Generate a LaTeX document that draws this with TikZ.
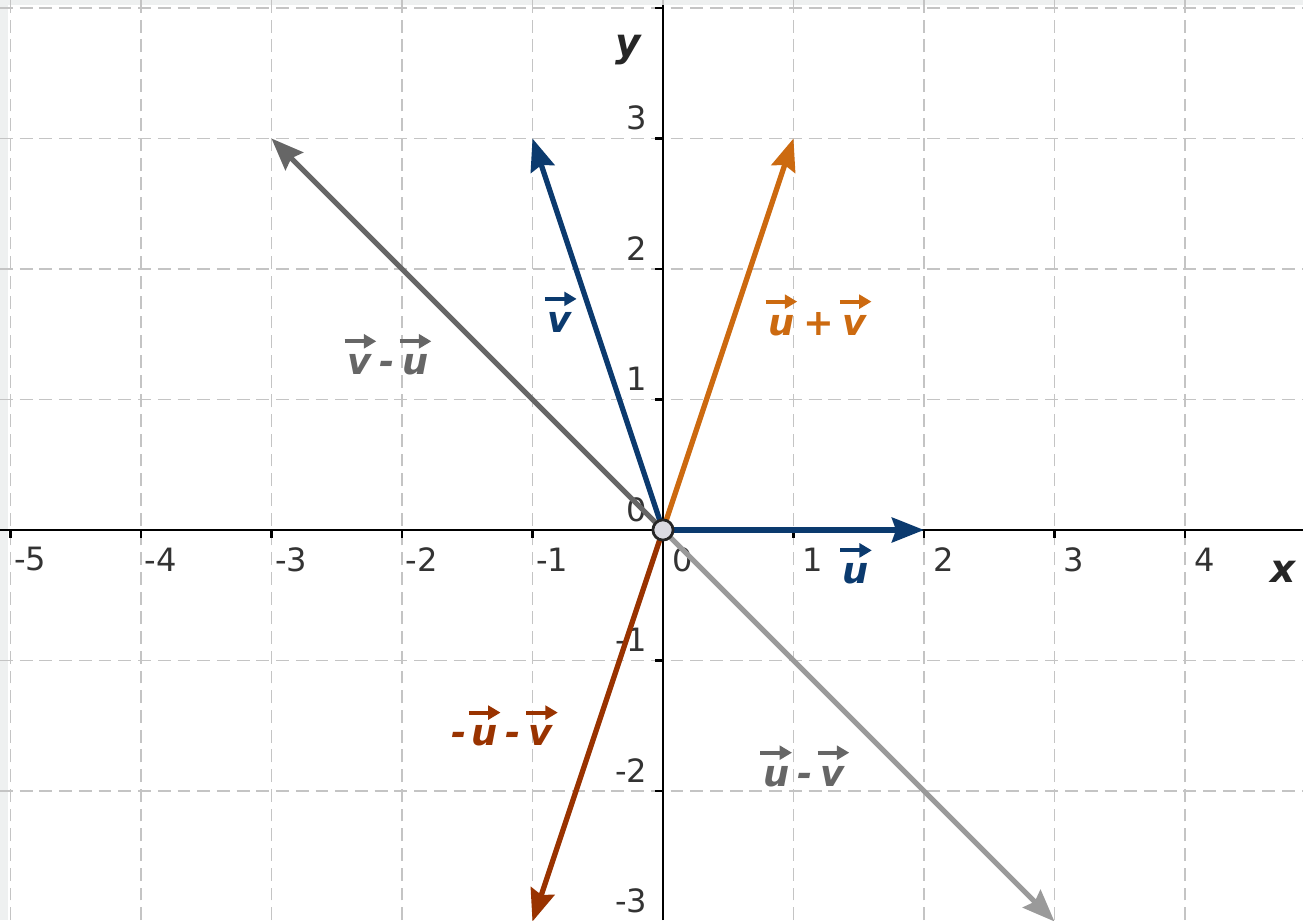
\documentclass[tikz,border=0pt]{standalone}
\usepackage{fontspec}
\setmainfont{DejaVu Sans}
\usetikzlibrary{arrows.meta}
\definecolor{vblue}{HTML}{0B3A6E}
\definecolor{vorange}{HTML}{CC6A10}
\definecolor{vbrown}{HTML}{993300}
\definecolor{vdgray}{HTML}{666666}
\definecolor{vlgray}{HTML}{9A9A9A}
\definecolor{gridgray}{HTML}{C4C4C4}
\definecolor{stripgray}{HTML}{EEF0F0}
\definecolor{dotfill}{HTML}{DADAE2}
\tikzset{
  gridline/.style={draw=gridgray, line width=0.35pt, dash pattern=on 2.8pt off 1.5pt},
  axisline/.style={draw=black, line width=0.5pt},
  vecline/.style={line width=1.15pt, -{Stealth[length=7pt,width=5.4pt,inset=0.9pt]}},
  ticklab/.style={font=\fontsize{7}{8}\selectfont, text=black!80, inner sep=0pt},
  veclab/.style={font=\fontsize{8}{9}\selectfont\bfseries\itshape, inner sep=0pt, anchor=base west},
  overarrow/.style={line width=0.85pt, -{Triangle[length=2.7pt,width=3pt]}},
}
\newcommand\overarr[2]{\draw[overarrow, #2] ([xshift=-0.4pt,yshift=2.7pt]#1.north west) -- ([xshift=6.5pt,yshift=2.7pt]#1.north west);}
\begin{document}
\begin{tikzpicture}[x=1cm,y=1cm]
\useasboundingbox (-5.080,-2.989) rectangle (4.904,4.061);
\fill[white] (-5.080,-2.989) rectangle (4.904,4.061);
\fill[stripgray] (-5.080,-2.989) rectangle (-5.019,4.061);
\fill[stripgray] (-5.080,4.023) rectangle (4.904,4.061);
% grid
\foreach \i in {-5,...,4} \draw[gridline] (\i,-2.989) -- (\i,4.061);
\foreach \j in {-2,...,4} \draw[gridline] (-5.080,\j) -- (4.904,\j);
% axes
\draw[axisline] (-5.080,0) -- (4.904,0);
\draw[axisline] (0,-2.989) -- (0,4.023);
\foreach \i in {-5,...,4} \draw[axisline] (\i,0) -- (\i,-0.06);
\foreach \j in {-2,...,4} \draw[axisline] (0,\j) -- (-0.06,\j);
% tick labels
\foreach \i in {-5,-4,-3,-2,-1,0,1,2,3,4}
  \node[ticklab] (xl\i) at (\i+0.15,-0.225) {\i};
\foreach \j in {-3,-2,-1,0,1,2,3}
  \node[ticklab, anchor=east] (yl\j) at (-0.115,\j+0.155) {\j};
\node[inner sep=0pt, text=black!85, font=\fontsize{8.5}{9}\selectfont\bfseries\itshape] (xlab) at (4.751,-0.322) {x};
\node[inner sep=0pt, text=black!85, font=\fontsize{8.5}{9}\selectfont\bfseries\itshape] (ylab) at (-0.268,3.678) {y};
% points
\coordinate (O) at (0,0);
\coordinate (U) at (2,0);
\coordinate (V) at (-1,3);
\coordinate (UpV) at (1,3);
\coordinate (mUmV) at (-1,-3);
\coordinate (VmU) at (-3,3);
\coordinate (UmV) at (3,-3);
% vectors
\draw[vecline, vdgray] (O) -- (VmU);
\draw[vecline, vlgray] (O) -- (UmV);
\draw[vecline, vbrown] (O) -- (mUmV);
\draw[vecline, vorange] (O) -- (UpV);
\draw[vecline, vblue] (O) -- (V);
\draw[vecline, vblue] (O) -- (U);
\node[circle, draw=black!85, fill=dotfill, line width=0.6pt, inner sep=0pt, minimum size=4.4pt] (Odot) at (O) {};
% label v - u
\node[veclab, text=vdgray] (a1) at (-2.425,1.190) {v};
\node[veclab, text=vdgray] (a2) at (a1.base east) {\,-\,};
\node[veclab, text=vdgray] (a3) at (a2.base east) {u};
\overarr{a1}{vdgray}\overarr{a3}{vdgray}
% label v
\node[veclab, text=vblue] (b1) at (-0.890,1.515) {v};
\overarr{b1}{vblue}
% label u + v
\node[veclab, text=vorange] (c1) at (0.800,1.494) {u};
\node[veclab, text=vorange] (c2) at (c1.base east) {\kern1.5pt+\kern1.5pt};
\node[veclab, text=vorange] (c3) at (c2.base east) {v};
\overarr{c1}{vorange}\overarr{c3}{vorange}
% label -u - v
\node[veclab, text=vbrown] (d1) at (-1.625,-1.655) {-\kern0.6pt};
\node[veclab, text=vbrown] (d2) at (d1.base east) {u};
\node[veclab, text=vbrown] (d3) at (d2.base east) {\,-\,};
\node[veclab, text=vbrown] (d4) at (d3.base east) {v};
\overarr{d2}{vbrown}\overarr{d4}{vbrown}
% label u - v
\node[veclab, text=vdgray] (e1) at (0.760,-1.962) {u};
\node[veclab, text=vdgray] (e2) at (e1.base east) {\,-\,};
\node[veclab, text=vdgray] (e3) at (e2.base east) {v};
\overarr{e1}{vdgray}\overarr{e3}{vdgray}
% label u
\node[veclab, text=vblue] (f1) at (1.372,-0.412) {u};
\overarr{f1}{vblue}
\end{tikzpicture}
\end{document}
